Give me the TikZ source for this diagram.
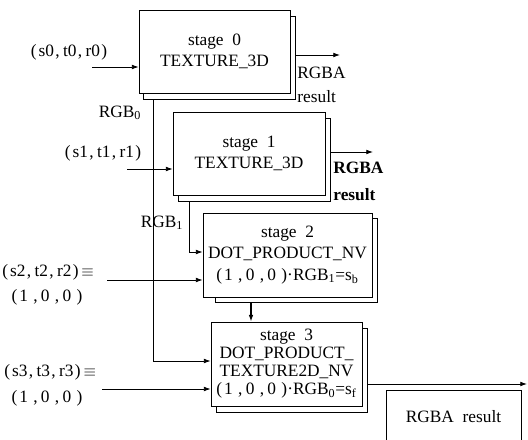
\documentclass[tikz,border=0pt]{standalone}
\usepackage{fontspec}
\setmainfont{Liberation Serif}
\usetikzlibrary{arrows.meta,positioning}
\newcommand{\tri}[4][1pt]{(\kern1.5pt#2\kern#1,\kern2.5pt#3\kern#1,\kern2.5pt#4\kern#1)}

\begin{document}
\begin{tikzpicture}[x=0.75pt,y=-0.75pt,
  stage/.style={draw, fill=white, align=center, inner sep=1pt, font=\fontsize{13pt}{16pt}\selectfont},
  layer/.style={draw, fill=white},
  lbl/.style={inner sep=0pt, font=\fontsize{13pt}{16pt}\selectfont},
  >={Latex[length=5pt,width=3.5pt]}, line width=0.6pt]
  \useasboundingbox (0,0) rectangle (528,439);
  % stages, each with its copy behind
  \node[layer, minimum width=114pt, minimum height=62.25pt] (st0s) at (219,57.5) {};
  \node[stage, minimum width=113.25pt, minimum height=62.25pt] (st0) at (214.5,51.5) {stage\ \ 0\\TEXTURE\_3D};
  \node[layer, minimum width=114pt, minimum height=62.25pt] (st1s) at (254,159.5) {};
  \node[stage, minimum width=114pt, minimum height=62.25pt] (st1) at (249,153.5) {stage\ \ 1\\TEXTURE\_3D};
  \node[layer, minimum width=121.5pt, minimum height=63pt] (st2s) at (296,260) {};
  \node[stage, minimum width=126.75pt, minimum height=63pt] (st2) at (287.5,255) {stage\ \ 2\\DOT\_PRODUCT\_NV\\\tri[4pt]{1}{0}{0}·RGB\textsubscript{1}=s\textsubscript{b}};
  \node[layer, minimum width=113.25pt, minimum height=63pt] (st3s) at (291.5,370) {};
  \node[stage, minimum width=113.25pt, minimum height=63pt, font=\fontsize{13pt}{13.5pt}\selectfont] (st3) at (286.5,364) {stage\ \ 3\\DOT\_PRODUCT\_\\TEXTURE2D\_NV\\\tri[4pt]{1}{0}{0}·RGB\textsubscript{0}=s\textsubscript{f}};
  % inputs
  \node[lbl] (in0) at (69,52) {\tri{s0}{t0}{r0}};
  \coordinate (a0) at (92,67);
  \draw[->] (a0) -- (a0 -| st0.west);
  \node[lbl] (in1) at (103,153) {\tri{s1}{t1}{r1}};
  \coordinate (a1) at (127,169);
  \draw[->] (a1) -- (a1 -| st1.west);
  \node[lbl, anchor=west] (in2) at (2,272) {\tri{s2}{t2}{r2}\,$\equiv$};
  \node[lbl] (in2b) at (47,297) {\tri[4pt]{1}{0}{0}};
  \coordinate (a2) at (107,280);
  \draw[->] (a2) -- (a2 -| st2.west);
  \node[lbl, anchor=west] (in3) at (4,372) {\tri{s3}{t3}{r3}\,$\equiv$};
  \node[lbl] (in3b) at (47,398) {\tri[4pt]{1}{0}{0}};
  \coordinate (a3) at (102,389);
  \draw[->] (a3) -- (a3 -| st3.west);
  % RGB feeds
  \coordinate (b0) at (153,361);
  \draw[->] (st0s.south -| b0) -- (b0) -- (b0 -| st3.west);
  \node[lbl] (g0) at (120,113) {RGB\textsubscript{0}};
  \coordinate (b1) at (189,252);
  \draw[->] (st1s.south -| b1) -- (b1) -- (b1 -| st2.west);
  \node[lbl] (g1) at (162,223) {RGB\textsubscript{1}};
  \coordinate (d2) at (251,310);
  \draw[->, line width=2pt] (st2s.south -| d2) -- (st3.north -| d2);
  % outputs
  \coordinate (o0) at (340,55);
  \draw[->] (o0 -| st0s.east) -- (o0);
  \node[lbl, anchor=west, align=left, font=\fontsize{13pt}{18pt}\selectfont] (r0) at (297,85) {RGBA\\result};
  \coordinate (o1) at (373,152);
  \draw[->] (o1 -| st1s.east) -- (o1);
  \node[lbl, anchor=west, align=left, font=\bfseries\fontsize{13pt}{20pt}\selectfont] (r1) at (333,181.5) {RGBA\\result};
  \coordinate (o3) at (527,384);
  \draw[->] (o3 -| st3s.east) -- (o3);
  \node[lbl, draw, minimum width=101.25pt, minimum height=40.5pt] (res) at (453.5,417) {RGBA\ \ result};
\end{tikzpicture}
\end{document}
